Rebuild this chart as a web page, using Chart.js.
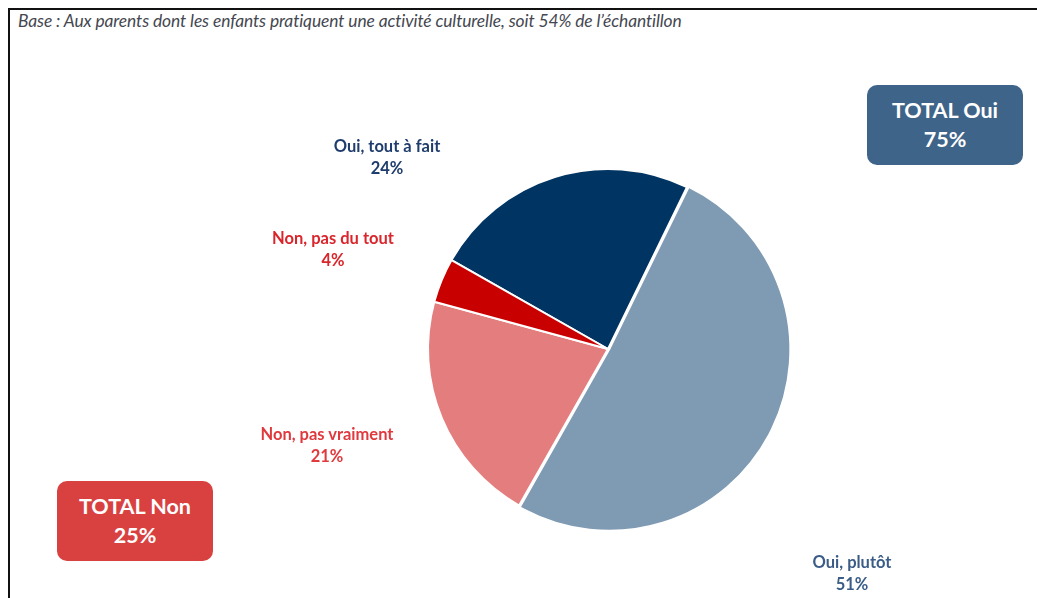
<!DOCTYPE html>
<html>
<head>
<meta charset="utf-8">
<script src="https://cdn.jsdelivr.net/npm/chart.js@4"></script>
<style>
  html, body { margin: 0; padding: 0; background: #fff; }
  #wrap { position: relative; width: 1037px; height: 598px; overflow: hidden; font-family: Lato, "Open Sans", sans-serif; }
  #frame { position: absolute; left: 8px; top: 8px; width: 1040px; height: 600px; border-top: 2px solid #111; border-left: 2px solid #111; }
  #base { position: absolute; left: 18px; top: 10px; font-size: 17.4px; font-style: italic; color: #44474f; letter-spacing: -0.1px; }
  #pie { position: absolute; left: 0; top: 0; }
  .lbl { position: absolute; transform: translateX(-50%); text-align: center; font-weight: bold; font-size: 16.5px; line-height: 22px; white-space: nowrap; }
  .box { position: absolute; width: 156px; height: 80px; border-radius: 10px; color: #fff; font-weight: bold; font-size: 21.5px; line-height: 29px; text-align: center; box-sizing: border-box; padding-top: 11px; }
</style>
</head>
<body>
<div id="wrap">
  <div id="frame"></div>
  <div id="base">Base : Aux parents dont les enfants pratiquent une activité culturelle, soit 54% de l’échantillon</div>
  <canvas id="pie" width="1037" height="598"></canvas>
  <div id="labels"></div>
  <div class="box" id="boxOui" style="left:867px; top:85px; background:#3F6489;"></div>
  <div class="box" id="boxNon" style="left:57px; top:481px; background:#D94141;"></div>
</div>
<script>
const categories = ["Oui, tout à fait", "Oui, plutôt", "Non, pas vraiment", "Non, pas du tout"];
const values = [24, 51, 21, 4];
const sliceColors = ["#003462", "#7F9AB3", "#E47E7E", "#C80000"];
const labelColors = ["#1F3D6C", "#3A5C86", "#E0393D", "#D9252B"];
const labelPos = [[387, 135], [852, 551], [327, 423], [333, 227]];
const totals = [["TOTAL Oui", 75], ["TOTAL Non", 25]];

const labels = document.getElementById("labels");
categories.forEach((name, i) => {
    const div = document.createElement("div");
    div.className = "lbl";
    div.style.left = labelPos[i][0] + "px";
    div.style.top = labelPos[i][1] + "px";
    div.style.color = labelColors[i];
    div.innerHTML = name + "<br>" + values[i] + "%";
    labels.appendChild(div);
});
document.getElementById("boxOui").innerHTML = totals[0][0] + "<br>" + totals[0][1] + "%";
document.getElementById("boxNon").innerHTML = totals[1][0] + "<br>" + totals[1][1] + "%";

// pie centred at about (608, 349), radius ~180
const pieChart = new Chart(document.getElementById("pie").getContext("2d"), {
    type: "pie",
    data: {
        labels: categories,
        datasets: [{
            data: values,
            backgroundColor: sliceColors,
            borderColor: "#ffffff",
            borderWidth: 2,
            offset: [0, 5, 0, 0]
        }]
    },
    options: {
        responsive: false,
        animation: false,
        rotation: -60.4,
        layout: {
            padding: { left: 424.5, right: 245.5, top: 165.5, bottom: 65.5 }
        },
        plugins: {
            legend: { display: false },
            tooltip: { enabled: false }
        }
    }
});
</script>
</body>
</html>
